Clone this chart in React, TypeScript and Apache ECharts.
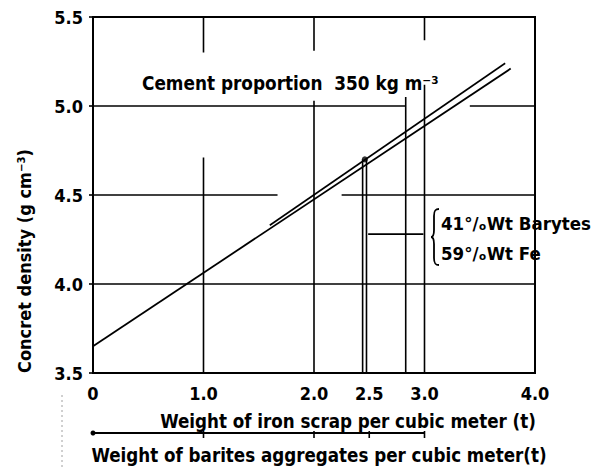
import React, { useEffect, useRef } from "react";
import * as echarts from "echarts";

// ---- data ----
const xTickText: Record<string, string> = { "0": "0", "1": "1.0", "2": "2.0", "2.5": "2.5", "3": "3.0", "4": "4.0" };
const yTickValues = [3.5, 4.0, 4.5, 5.0, 5.5];

// density vs weight (two nearly parallel lines)
const lowerLine: number[][] = [[0, 3.65], [3.78, 5.21]];
const upperLine: number[][] = [[1.6, 4.33], [3.73, 5.24]];
const markedPoint: number[][] = [[2.46, 4.7]];

// vertical segments: [x, yFrom, yTo]
const verticalSegments: number[][] = [
  [1.0, 3.5, 4.71], [1.0, 5.3, 5.5],
  [2.0, 3.5, 5.03], [2.0, 5.31, 5.5],
  [2.83, 3.5, 5.05],
  [3.0, 3.5, 5.12], [3.0, 5.37, 5.5],
  [2.44, 3.5, 4.7], [2.475, 3.5, 4.7],
];
// horizontal segments: [y, xFrom, xTo]
const horizontalSegments: number[][] = [
  [4.0, 0, 4],
  [4.5, 0, 1.67], [4.5, 2.25, 4],
  [5.0, 0, 2.83], [5.0, 3.41, 4],
  [4.28, 2.49, 2.99],
];
// barites scale ticks (second x scale)
const bariteScaleTicks = [0, 1, 2, 2.5, 3];

const titleText = "Cement proportion  350 kg m⁻³";
const yTitle = "Concret density (g cm⁻³)";
const xTitle1 = "Weight of iron scrap per cubic meter (t)";
const xTitle2 = "Weight of barites aggregates per cubic meter(t)";
const legend1 = "41°/ₒWt Barytes";
const legend2 = "59°/ₒWt Fe";

const FONT = "'DejaVu Sans Condensed', 'DejaVu Sans', sans-serif";

echarts.graphic.registerShape(
  "brace",
  echarts.graphic.extendPath(
    "M8,0 C4,0 3,2 3,7 L3,21 C3,26 2,28 0,28 C2,28 3,30 3,35 L3,49 C3,54 4,56 8,56",
    {}
  ) as any
);

export default function App() {
  const ref = useRef<HTMLDivElement>(null);
  useEffect(() => {
    if (!ref.current) return;
    const chart = echarts.init(ref.current, null, { renderer: "svg" });
    const lineStyle = { color: "#000", width: 1.6 };
    const series: any[] = [];
    verticalSegments.forEach(([x, y0, y1]) =>
      series.push({ type: "line", data: [[x, y0], [x, y1]], symbol: "none", lineStyle, silent: true })
    );
    horizontalSegments.forEach(([y, x0, x1]) =>
      series.push({ type: "line", data: [[x0, y], [x1, y]], symbol: "none", lineStyle, silent: true })
    );
    series.push({ type: "line", data: lowerLine, symbol: "none", lineStyle: { color: "#000", width: 1.8 } });
    series.push({ type: "line", data: upperLine, symbol: "none", lineStyle: { color: "#000", width: 1.6 } });
    series.push({ type: "scatter", data: markedPoint, symbolSize: 6, itemStyle: { color: "#000" } });

    chart.setOption({
      animation: false,
      backgroundColor: "#fff",
      grid: { left: 93, right: 59, top: 17, bottom: 97, show: true, borderColor: "#000", borderWidth: 2 },
      xAxis: {
        type: "value", min: 0, max: 4, interval: 0.5,
        axisLine: { show: false }, axisTick: { show: false }, splitLine: { show: false },
        axisLabel: {
          margin: 11, color: "#000", fontFamily: FONT, fontWeight: "bold", fontSize: 18,
          formatter: (v: number) => xTickText[String(v)] ?? "",
        },
      },
      yAxis: {
        type: "value", min: 3.5, max: 5.5, interval: 0.5,
        axisLine: { show: false },
        axisTick: { show: true, length: 4, lineStyle: { color: "#000", width: 1.6 } },
        splitLine: { show: false },
        axisLabel: {
          margin: 10, color: "#000", fontFamily: FONT, fontWeight: "bold", fontSize: 18,
          formatter: (v: number) => (yTickValues.includes(v) ? v.toFixed(1) : ""),
        },
      },
      series,
    });

    const px = (x: number, y: number) => chart.convertToPixel({ gridIndex: 0 }, [x, y]) as number[];
    const scaleY = 433;
    const x0 = px(bariteScaleTicks[0], 3.5)[0];
    const xEnd = px(bariteScaleTicks[bariteScaleTicks.length - 1], 3.5)[0];
    const graphic: any[] = [
      { type: "text", x: 142, y: 83, style: { text: titleText, font: `bold 18.8px ${FONT}`, fill: "#000", align: "left", verticalAlign: "middle" } },
      {
        type: "text", x: 24, y: 261, rotation: Math.PI / 2,
        style: { text: yTitle, font: `bold 18px ${FONT}`, fill: "#000", align: "center", verticalAlign: "middle" },
      },
      { type: "text", x: 348, y: 421, style: { text: xTitle1, font: `bold 18.6px ${FONT}`, fill: "#000", align: "center", verticalAlign: "middle" } },
      { type: "text", x: 319, y: 455, style: { text: xTitle2, font: `bold 18.6px ${FONT}`, fill: "#000", align: "center", verticalAlign: "middle" } },
      { type: "text", x: 441, y: 223, style: { text: legend1, font: `bold 18.5px ${FONT}`, fill: "#000", align: "left", verticalAlign: "middle" } },
      { type: "text", x: 441, y: 253, style: { text: legend2, font: `bold 18.5px ${FONT}`, fill: "#000", align: "left", verticalAlign: "middle" } },
      { type: "brace", x: 431, y: 209, style: { fill: null, stroke: "#000", lineWidth: 1.8 } },
      { type: "line", shape: { x1: x0 - 1, y1: scaleY, x2: xEnd, y2: scaleY }, style: { stroke: "#000", lineWidth: 1.8 } },
      { type: "circle", shape: { cx: x0, cy: scaleY, r: 2.5 }, style: { fill: "#000" } },
      { type: "line", shape: { x1: 62, y1: 395, x2: 62, y2: 470 }, style: { stroke: "#888", lineWidth: 0.8, lineDash: [2, 3] } },
    ];
    bariteScaleTicks.slice(1).forEach((v) => {
      const xp = px(v, 3.5)[0];
      graphic.push({ type: "line", shape: { x1: xp, y1: scaleY - 2, x2: xp, y2: scaleY + 5 }, style: { stroke: "#000", lineWidth: 1.6 } });
    });
    chart.setOption({ graphic });

    return () => chart.dispose();
  }, []);
  return <div ref={ref} style={{ position: "fixed", left: 0, top: 0, width: 594, height: 470 }} />;
}
